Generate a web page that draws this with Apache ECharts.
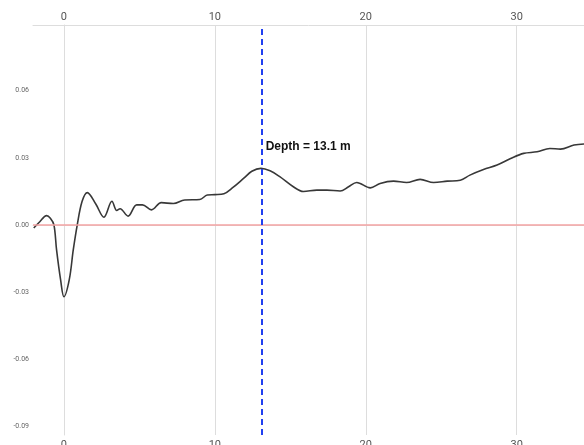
<!DOCTYPE html>
<html>
<head>
<meta charset="utf-8">
<script src="https://cdn.jsdelivr.net/npm/echarts@6/dist/echarts.min.js"></script>
<style>html,body{margin:0;padding:0;background:#fff;}#c{width:584px;height:445px;}</style>
</head>
<body>
<div id="c"></div>
<script>
var depth = [-2.0,-1.6,-1.15,-0.9,-0.66,-0.49,-0.22,0.0,0.35,0.62,0.88,1.2,1.55,2.1,2.65,3.18,3.5,3.72,4.25,4.82,5.2,5.8,6.45,7.25,8.0,9.0,9.5,10.0,10.6,11.2,11.9,12.45,13.05,13.66,14.3,15.2,15.87,16.76,17.42,18.3,18.86,19.4,20.3,20.95,21.84,22.7,23.6,24.5,25.4,26.26,26.9,27.8,28.7,29.6,30.46,31.35,32.2,32.9,33.8,34.5];
var amplitude = [-0.0013,0.0015,0.0042,0.0030,0.0,-0.011,-0.0245,-0.032,-0.0245,-0.011,0.0,0.0105,0.0145,0.0095,0.0035,0.0106,0.0065,0.0073,0.0040,0.0090,0.0090,0.0068,0.0100,0.0096,0.0112,0.0114,0.0134,0.0136,0.0140,0.0168,0.0208,0.0240,0.0253,0.0242,0.0216,0.0171,0.0150,0.0156,0.0156,0.0152,0.0171,0.0190,0.0166,0.0186,0.0196,0.0190,0.0204,0.0190,0.0196,0.0200,0.0223,0.0248,0.0268,0.0297,0.0320,0.0327,0.0342,0.0339,0.0357,0.0362];
var xTicks = [0, 10, 20, 30];
var yTicks = [-0.09, -0.06, -0.03, 0, 0.03, 0.06];
var pickDepth = 13.1;
var labelAmp = 0.0352;

var data = depth.map(function(d, i){ return [d, amplitude[i]]; });
var chart = echarts.init(document.getElementById('c'), null, {renderer:'canvas'});
function xAxisCfg(pos){
  return {
    type:'value', position: pos, min:-2.05, max:34.46,
    axisLine:{show:true, lineStyle:{color:'#dddddd', width:1}},
    axisTick:{show:false, customValues:xTicks},
    axisLabel:{customValues:xTicks, color:'#555', fontSize:11, fontFamily:'Roboto, sans-serif', margin: pos==='top' ? 2 : 5},
    splitLine:{show: pos==='bottom', lineStyle:{color:'#dddddd', width:1}}
  };
}
chart.setOption({
  animation:false,
  grid:{left:33, top:25, right:0, bottom:10, containLabel:false, outerBoundsMode:'none'},
  xAxis:[xAxisCfg('bottom'), xAxisCfg('top')],
  yAxis:{
    type:'value', min:-0.0937, max:0.0893,
    axisLine:{show:true, lineStyle:{color:'#dddddd', width:1}},
    axisTick:{show:false, customValues:yTicks},
    axisLabel:{customValues:yTicks, color:'#666', fontSize:7, fontFamily:'Roboto, sans-serif', margin:4,
      formatter:function(v){ return v.toFixed(2); }},
    splitLine:{show:false}
  },
  series:[{
    type:'line', data:data, smooth:0.35, showSymbol:false,
    lineStyle:{color:'#383838', width:1.6},
    markLine:{
      silent:true, symbol:['none','none'], animation:false,
      label:{show:false},
      data:[
        {yAxis:0, lineStyle:{color:'#f3a3a3', width:1.5, type:'solid'}},
        {xAxis:pickDepth, lineStyle:{color:'#2140f0', width:2, type:[6,4]}}
      ]
    },
    markPoint:{
      symbol:'circle', symbolSize:0, silent:true,
      label:{show:true, position:'right', distance:4, formatter:'Depth = ' + pickDepth + ' m',
        color:'#111', fontSize:12, fontWeight:'bold', fontFamily:'Liberation Sans, Arial, sans-serif'},
      data:[{coord:[pickDepth, labelAmp]}]
    }
  }]
});
</script>
</body>
</html>
